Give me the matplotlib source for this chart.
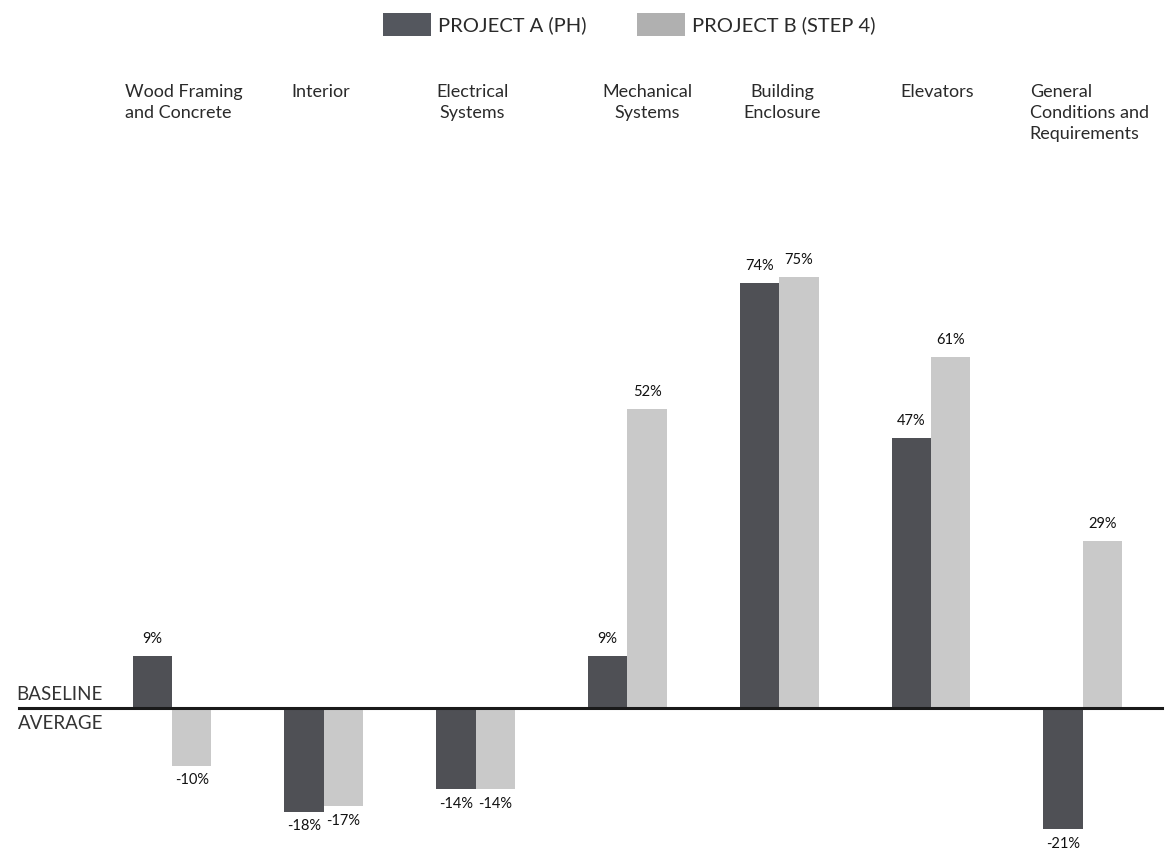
import matplotlib.pyplot as plt
import numpy as np
from matplotlib.patches import Patch

plt.rcParams['font.family'] = ['Lato', 'DejaVu Sans']

categories = ["Wood Framing\nand Concrete", "Interior", "Electrical\nSystems",
              "Mechanical\nSystems", "Building\nEnclosure", "Elevators",
              "General\nConditions and\nRequirements"]
project_a = [9, -18, -14, 9, 74, 47, -21]
project_b = [-10, -17, -14, 52, 75, 61, 29]
series_names = ["PROJECT A (PH)", "PROJECT B (STEP 4)"]

col_a = '#4f5055'
col_b = '#c9c9c9'

fig = plt.figure(figsize=(11.74, 8.57), dpi=100)
ax = fig.add_axes([0, 0, 1, 1])

x = np.arange(len(categories))
w = 0.26
ax.bar(x - w / 2, project_a, w, color=col_a, linewidth=0)
ax.bar(x + w / 2, project_b, w, color=col_b, linewidth=0)

# value labels above / below each bar
for xs, vals in ((x - w / 2, project_a), (x + w / 2, project_b)):
    for xi, v in zip(xs, vals):
        off = 17 if v > 0 else -15
        ax.annotate(f"{v}%", (xi, v), xytext=(0, off), textcoords='offset pixels',
                    ha='center', va='center', fontsize=10.5, color='#111111')

# baseline
ax.axhline(0, xmin=19 / 1174, xmax=1162 / 1174, color='#1a1a1a', lw=2.2, zorder=3)
ax.text(103 / 1174, 0.8, "BASELINE", transform=ax.get_yaxis_transform(),
        ha='right', va='bottom', fontsize=13.5, color='#333333')
ax.text(103 / 1174, -1.2, "AVERAGE", transform=ax.get_yaxis_transform(),
        ha='right', va='top', fontsize=13.5, color='#333333')

# category headings
label_dx = [-0.31, -0.02, -0.02, 0.13, 0.02, 0.04, -0.35]
label_ha = ['left', 'center', 'center', 'center', 'center', 'center', 'left']
for xi, name, dx, ha in zip(x, categories, label_dx, label_ha):
    ax.text(xi + dx, 1 - 84 / 857, name, transform=ax.get_xaxis_transform(),
            ha=ha, va='top', fontsize=13, color='#2a2a2a', linespacing=1.38,
            multialignment=ha)

ax.set_xlim(-172 / 151.8, (1174 - 172) / 151.8)
ax.set_ylim(-(857 - 708) / 5.75, 708 / 5.75)
ax.axis('off')

handles = [Patch(facecolor='#54575e', edgecolor='none'),
           Patch(facecolor='#b0b0b0', edgecolor='none')]
fig.legend(handles, series_names, loc='center', bbox_to_anchor=(0.536, 0.971),
           ncol=2, frameon=False, fontsize=14.5, handlelength=2.4, handleheight=1.4,
           handletextpad=0.35, columnspacing=2.5, borderpad=0, labelcolor='#2a2a2a')

fig.savefig('out.png', dpi=100, facecolor='white')
